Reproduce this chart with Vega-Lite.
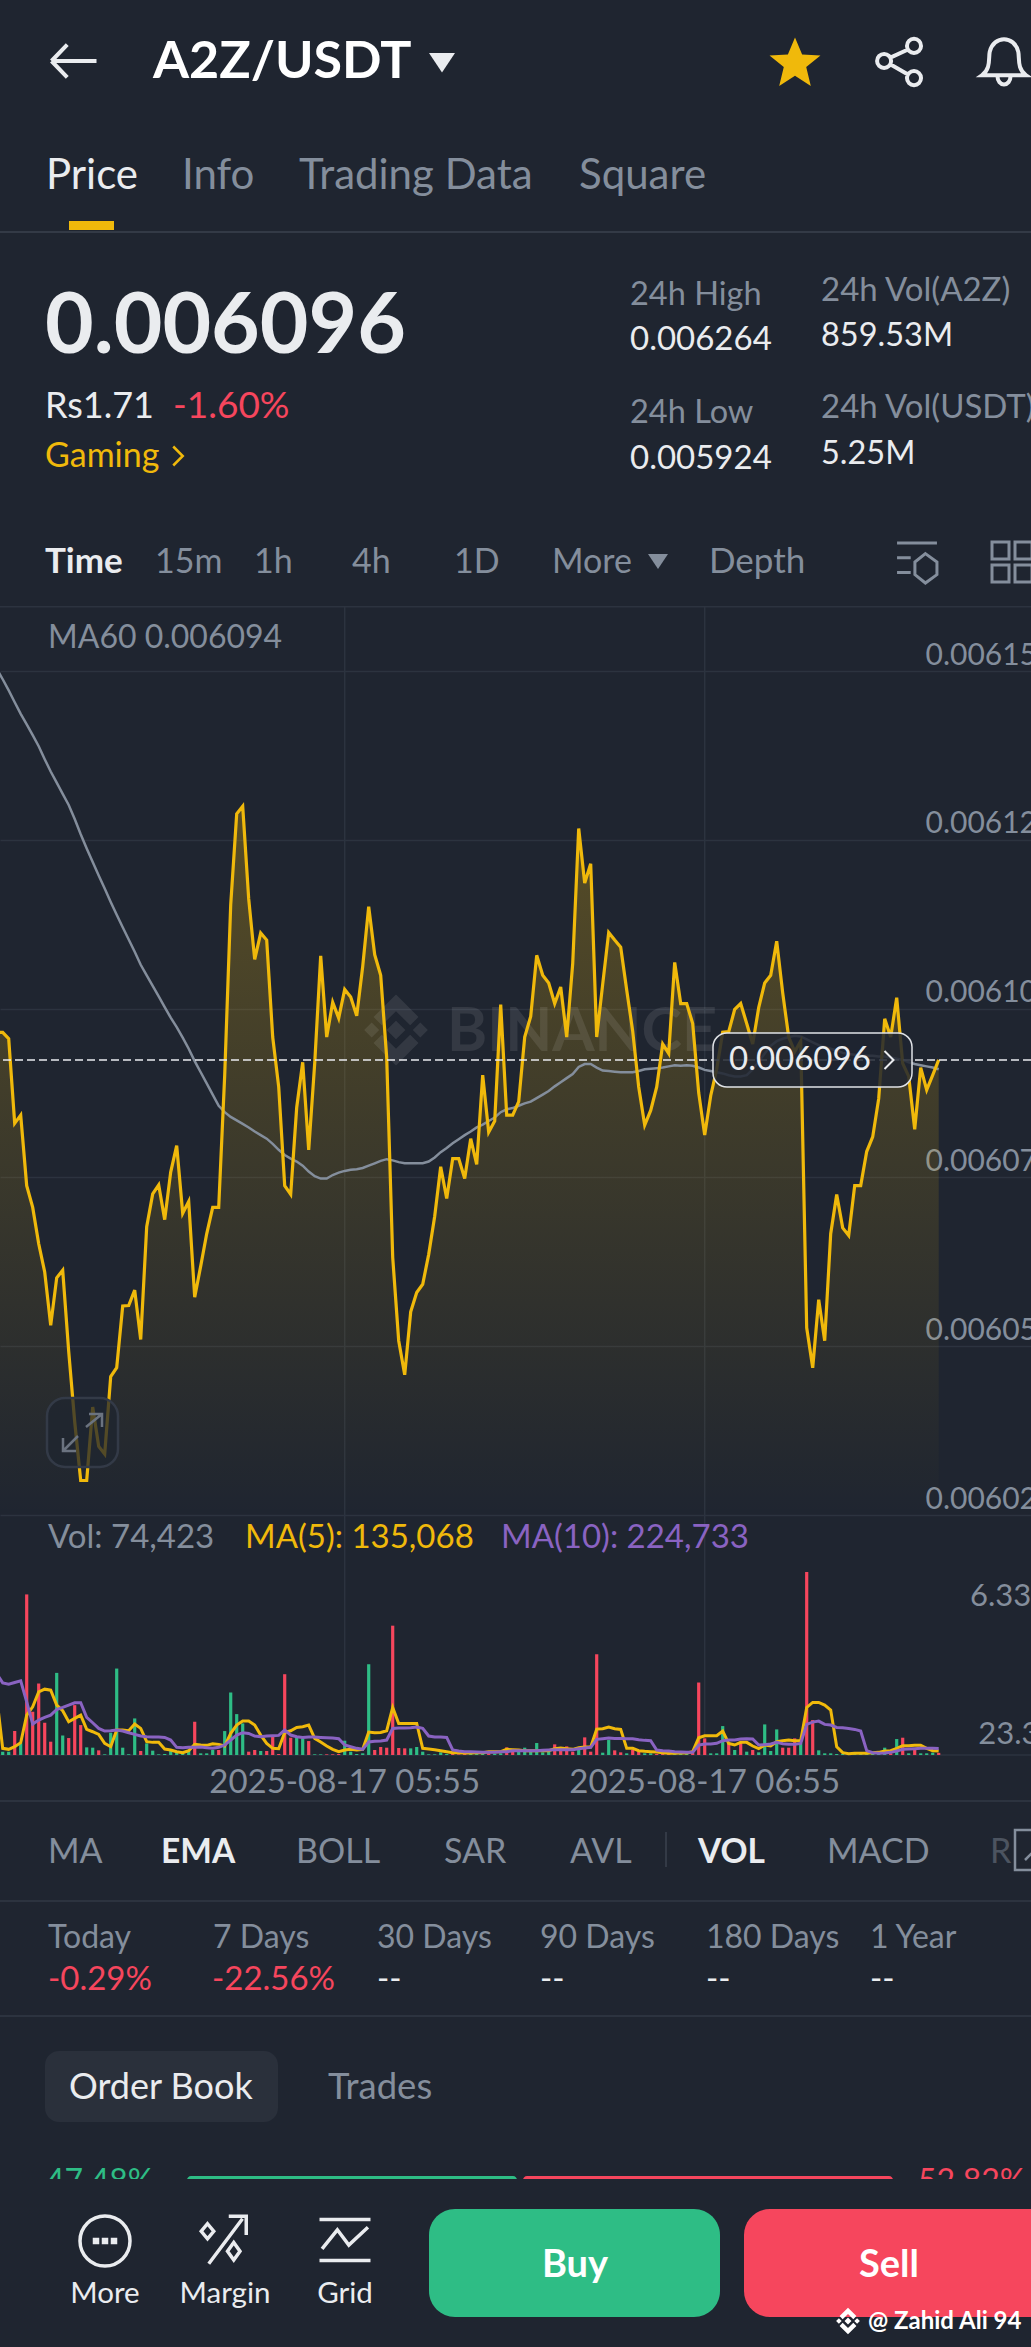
{"$schema":"https://vega.github.io/schema/vega-lite/v6.json","width":1031,"height":2347,"autosize":{"type":"none"},"padding":0,"background":"#1f2530","config":{"view":{"stroke":null},"font":"Lato"},"data":{"values":[{}]},"resolve":{"scale":{"y":"independent"},"axis":{"y":"independent"}},
"datasets":{"timeGrid":[{"t":"2025-08-17T05:55"},{"t":"2025-08-17T06:55"}],"kline":[
{"t":"2025-08-17T04:57","price":0.00610009,"ma60":0.00615394,"ma5":2012500,"ma10":2817500},
{"t":"2025-08-17T04:58","price":0.00610009,"ma60":0.00615238,"vol":115000,"side":"up","ma5":230000,"ma10":2495500},
{"t":"2025-08-17T04:59","price":0.00609913,"ma60":0.00615072,"vol":115000,"side":"up","ma5":195500,"ma10":2449500},
{"t":"2025-08-17T05:00","price":0.0060866,"ma60":0.00614898,"vol":828000,"side":"down","ma5":287500,"ma10":2507000},
{"t":"2025-08-17T05:01","price":0.00608782,"ma60":0.00614724,"vol":402500,"side":"up","ma5":425500,"ma10":2564500},
{"t":"2025-08-17T05:02","price":0.00607738,"ma60":0.00614568,"vol":5554500,"side":"down","ma5":1380000,"ma10":1840000},
{"t":"2025-08-17T05:03","price":0.00607416,"ma60":0.00614411,"vol":1495000,"side":"down","ma5":1667500,"ma10":1069500},
{"t":"2025-08-17T05:04","price":0.00606877,"ma60":0.00614246,"vol":2472500,"side":"down","ma5":2185000,"ma10":1207500},
{"t":"2025-08-17T05:05","price":0.00606459,"ma60":0.00614054,"vol":1115500,"side":"down","ma5":2277000,"ma10":1299500},
{"t":"2025-08-17T05:06","price":0.00605668,"ma60":0.00613872,"vol":460000,"side":"down","ma5":2242500,"ma10":1380000},
{"t":"2025-08-17T05:07","price":0.00606372,"ma60":0.00613706,"vol":2840500,"side":"up","ma5":1725000,"ma10":1575500},
{"t":"2025-08-17T05:08","price":0.00606485,"ma60":0.00613541,"vol":678500,"side":"up","ma5":1529500,"ma10":1644500},
{"t":"2025-08-17T05:09","price":0.00605285,"ma60":0.00613376,"vol":586500,"side":"down","ma5":1150000,"ma10":1725000},
{"t":"2025-08-17T05:10","price":0.00604241,"ma60":0.00613167,"vol":1725000,"side":"down","ma5":1265000,"ma10":1805500},
{"t":"2025-08-17T05:11","price":0.00603371,"ma60":0.00612941,"vol":1035000,"side":"down","ma5":1380000,"ma10":1805500},
{"t":"2025-08-17T05:12","price":0.00603371,"ma60":0.00612732,"vol":264500,"side":"up","ma5":885500,"ma10":1299500},
{"t":"2025-08-17T05:13","price":0.00604458,"ma60":0.00612532,"vol":253000,"side":"up","ma5":805000,"ma10":1115500},
{"t":"2025-08-17T05:14","price":0.00603875,"ma60":0.00612332,"vol":161000,"side":"down","ma5":713000,"ma10":920000},
{"t":"2025-08-17T05:15","price":0.00603762,"ma60":0.0061214,"vol":23000,"side":"up","ma5":402500,"ma10":828000},
{"t":"2025-08-17T05:16","price":0.00604911,"ma60":0.0061194,"vol":770500,"side":"up","ma5":287500,"ma10":839500},
{"t":"2025-08-17T05:17","price":0.00605041,"ma60":0.00611749,"vol":2990000,"side":"up","ma5":862500,"ma10":862500},
{"t":"2025-08-17T05:18","price":0.00605955,"ma60":0.00611566,"vol":253000,"side":"up","ma5":862500,"ma10":828000},
{"t":"2025-08-17T05:19","price":0.00605963,"ma60":0.00611384,"vol":23000,"side":"up","ma5":839500,"ma10":770500},
{"t":"2025-08-17T05:20","price":0.0060619,"ma60":0.00611201,"vol":1265000,"side":"up","ma5":1069500,"ma10":713000},
{"t":"2025-08-17T05:21","price":0.00605459,"ma60":0.00611009,"vol":138000,"side":"down","ma5":920000,"ma10":655500},
{"t":"2025-08-17T05:22","price":0.00607129,"ma60":0.00610853,"vol":402500,"side":"up","ma5":460000,"ma10":632500},
{"t":"2025-08-17T05:23","price":0.00607616,"ma60":0.00610696,"vol":149500,"side":"up","ma5":437000,"ma10":621000},
{"t":"2025-08-17T05:24","price":0.00607747,"ma60":0.0061054,"vol":23000,"side":"up","ma5":437000,"ma10":621000},
{"t":"2025-08-17T05:25","price":0.00607234,"ma60":0.00610383,"vol":34500,"side":"up","ma5":207000,"ma10":609500},
{"t":"2025-08-17T05:26","price":0.00607938,"ma60":0.00610226,"vol":138000,"side":"up","ma5":172500,"ma10":517500},
{"t":"2025-08-17T05:27","price":0.0060833,"ma60":0.00610087,"vol":115000,"side":"up","ma5":115000,"ma10":264500},
{"t":"2025-08-17T05:28","price":0.00607329,"ma60":0.00609931,"vol":57500,"side":"up","ma5":80500,"ma10":253000},
{"t":"2025-08-17T05:29","price":0.00607503,"ma60":0.00609765,"vol":149500,"side":"up","ma5":149500,"ma10":264500},
{"t":"2025-08-17T05:30","price":0.00606085,"ma60":0.00609583,"vol":1150000,"side":"down","ma5":368000,"ma10":264500},
{"t":"2025-08-17T05:31","price":0.00606546,"ma60":0.00609417,"vol":57500,"side":"up","ma5":345000,"ma10":276000},
{"t":"2025-08-17T05:32","price":0.00607025,"ma60":0.00609252,"vol":57500,"side":"up","ma5":333500,"ma10":253000},
{"t":"2025-08-17T05:33","price":0.00607416,"ma60":0.00609087,"vol":172500,"side":"up","ma5":391000,"ma10":230000},
{"t":"2025-08-17T05:34","price":0.00607416,"ma60":0.00608921,"vol":172500,"side":"down","ma5":368000,"ma10":264500},
{"t":"2025-08-17T05:35","price":0.00609374,"ma60":0.00608826,"vol":828000,"side":"up","ma5":310500,"ma10":345000},
{"t":"2025-08-17T05:36","price":0.00611897,"ma60":0.00608756,"vol":2162000,"side":"up","ma5":747500,"ma10":517500},
{"t":"2025-08-17T05:37","price":0.00613245,"ma60":0.00608704,"vol":1414500,"side":"up","ma5":1035000,"ma10":690000},
{"t":"2025-08-17T05:38","price":0.00613358,"ma60":0.00608652,"vol":1092500,"side":"up","ma5":1173000,"ma10":770500},
{"t":"2025-08-17T05:39","price":0.00611984,"ma60":0.006086,"vol":115000,"side":"down","ma5":1173000,"ma10":747500},
{"t":"2025-08-17T05:40","price":0.00611088,"ma60":0.00608539,"vol":172500,"side":"down","ma5":1035000,"ma10":655500},
{"t":"2025-08-17T05:41","price":0.00611479,"ma60":0.00608486,"vol":138000,"side":"up","ma5":690000,"ma10":632500},
{"t":"2025-08-17T05:42","price":0.00611375,"ma60":0.00608434,"vol":138000,"side":"down","ma5":402500,"ma10":655500},
{"t":"2025-08-17T05:43","price":0.00609939,"ma60":0.00608356,"vol":632500,"side":"down","ma5":230000,"ma10":667000},
{"t":"2025-08-17T05:44","price":0.006092,"ma60":0.00608269,"vol":34500,"side":"down","ma5":218500,"ma10":678500},
{"t":"2025-08-17T05:45","price":0.00607738,"ma60":0.00608191,"vol":2794500,"side":"down","ma5":782000,"ma10":862500},
{"t":"2025-08-17T05:46","price":0.00607608,"ma60":0.00608138,"vol":598000,"side":"down","ma5":839500,"ma10":690000},
{"t":"2025-08-17T05:47","price":0.00608895,"ma60":0.00608095,"vol":632500,"side":"up","ma5":954500,"ma10":632500},
{"t":"2025-08-17T05:48","price":0.00609565,"ma60":0.00608034,"vol":575000,"side":"up","ma5":977500,"ma10":609500},
{"t":"2025-08-17T05:49","price":0.00608269,"ma60":0.00607947,"vol":483000,"side":"down","ma5":1035000,"ma10":621000},
{"t":"2025-08-17T05:50","price":0.00609548,"ma60":0.00607877,"vol":23000,"side":"up","ma5":575000,"ma10":621000},
{"t":"2025-08-17T05:51","price":0.0061114,"ma60":0.00607843,"vol":23000,"side":"up","ma5":448500,"ma10":609500},
{"t":"2025-08-17T05:52","price":0.00609939,"ma60":0.00607843,"vol":23000,"side":"down","ma5":310500,"ma10":598000},
{"t":"2025-08-17T05:53","price":0.00610453,"ma60":0.00607895,"vol":23000,"side":"down","ma5":195500,"ma10":586500},
{"t":"2025-08-17T05:54","price":0.00610218,"ma60":0.0060793,"vol":34500,"side":"down","ma5":115000,"ma10":563500},
{"t":"2025-08-17T05:55","price":0.00610644,"ma60":0.00607956,"vol":494500,"side":"up","ma5":172500,"ma10":345000},
{"t":"2025-08-17T05:56","price":0.00610531,"ma60":0.00607973,"vol":115000,"side":"up","ma5":195500,"ma10":287500},
{"t":"2025-08-17T05:57","price":0.00610253,"ma60":0.00607982,"vol":34500,"side":"up","ma5":172500,"ma10":230000},
{"t":"2025-08-17T05:58","price":0.00610983,"ma60":0.00607999,"vol":57500,"side":"up","ma5":195500,"ma10":195500},
{"t":"2025-08-17T05:59","price":0.00611871,"ma60":0.00608034,"vol":3139500,"side":"up","ma5":793500,"ma10":448500},
{"t":"2025-08-17T06:00","price":0.00611157,"ma60":0.00608069,"vol":172500,"side":"down","ma5":770500,"ma10":471500},
{"t":"2025-08-17T06:01","price":0.00610853,"ma60":0.00608104,"vol":276000,"side":"down","ma5":782000,"ma10":483000},
{"t":"2025-08-17T06:02","price":0.00609635,"ma60":0.0060813,"vol":253000,"side":"down","ma5":839500,"ma10":517500},
{"t":"2025-08-17T06:03","price":0.00606677,"ma60":0.00608112,"vol":4473500,"side":"down","ma5":1644500,"ma10":920000},
{"t":"2025-08-17T06:04","price":0.00605441,"ma60":0.00608086,"vol":241500,"side":"down","ma5":1092500,"ma10":931500},
{"t":"2025-08-17T06:05","price":0.00604937,"ma60":0.00608069,"vol":230000,"side":"down","ma5":1092500,"ma10":931500},
{"t":"2025-08-17T06:06","price":0.00605868,"ma60":0.00608069,"vol":230000,"side":"up","ma5":1092500,"ma10":943000},
{"t":"2025-08-17T06:07","price":0.00606155,"ma60":0.00608069,"vol":276000,"side":"up","ma5":1092500,"ma10":966000},
{"t":"2025-08-17T06:08","price":0.00606277,"ma60":0.00608069,"vol":115000,"side":"up","ma5":230000,"ma10":920000},
{"t":"2025-08-17T06:09","price":0.0060672,"ma60":0.00608095,"vol":23000,"side":"up","ma5":207000,"ma10":655500},
{"t":"2025-08-17T06:10","price":0.00607286,"ma60":0.00608156,"vol":23000,"side":"up","ma5":184000,"ma10":621000},
{"t":"2025-08-17T06:11","price":0.00608017,"ma60":0.00608234,"vol":92000,"side":"up","ma5":149500,"ma10":621000},
{"t":"2025-08-17T06:12","price":0.00607547,"ma60":0.00608295,"vol":34500,"side":"up","ma5":115000,"ma10":609500},
{"t":"2025-08-17T06:13","price":0.00608138,"ma60":0.00608365,"vol":34500,"side":"down","ma5":80500,"ma10":172500},
{"t":"2025-08-17T06:14","price":0.00608138,"ma60":0.00608425,"vol":23000,"side":"down","ma5":80500,"ma10":138000},
{"t":"2025-08-17T06:15","price":0.00607843,"ma60":0.00608486,"vol":34500,"side":"down","ma5":69000,"ma10":115000},
{"t":"2025-08-17T06:16","price":0.00608434,"ma60":0.00608539,"vol":46000,"side":"up","ma5":69000,"ma10":115000},
{"t":"2025-08-17T06:17","price":0.00608051,"ma60":0.006086,"vol":34500,"side":"up","ma5":80500,"ma10":103500},
{"t":"2025-08-17T06:18","price":0.00609374,"ma60":0.00608643,"vol":46000,"side":"up","ma5":80500,"ma10":92000},
{"t":"2025-08-17T06:19","price":0.0060853,"ma60":0.00608695,"vol":57500,"side":"down","ma5":115000,"ma10":92000},
{"t":"2025-08-17T06:20","price":0.00608695,"ma60":0.00608747,"vol":46000,"side":"up","ma5":115000,"ma10":92000},
{"t":"2025-08-17T06:21","price":0.00610418,"ma60":0.00608826,"vol":57500,"side":"up","ma5":115000,"ma10":115000},
{"t":"2025-08-17T06:22","price":0.00608782,"ma60":0.00608869,"vol":264500,"side":"down","ma5":195500,"ma10":115000},
{"t":"2025-08-17T06:23","price":0.00608782,"ma60":0.00608887,"vol":115000,"side":"down","ma5":184000,"ma10":149500},
{"t":"2025-08-17T06:24","price":0.00608982,"ma60":0.00608921,"vol":115000,"side":"up","ma5":172500,"ma10":149500},
{"t":"2025-08-17T06:25","price":0.00609939,"ma60":0.00608956,"vol":253000,"side":"up","ma5":149500,"ma10":149500},
{"t":"2025-08-17T06:26","price":0.00610244,"ma60":0.00608982,"vol":115000,"side":"up","ma5":149500,"ma10":149500},
{"t":"2025-08-17T06:27","price":0.00611149,"ma60":0.00609034,"vol":414000,"side":"up","ma5":149500,"ma10":149500},
{"t":"2025-08-17T06:28","price":0.00610853,"ma60":0.00609087,"vol":92000,"side":"up","ma5":149500,"ma10":161000},
{"t":"2025-08-17T06:29","price":0.0061074,"ma60":0.00609139,"vol":115000,"side":"up","ma5":149500,"ma10":172500},
{"t":"2025-08-17T06:30","price":0.00610435,"ma60":0.00609208,"vol":368000,"side":"down","ma5":218500,"ma10":184000},
{"t":"2025-08-17T06:31","price":0.00610679,"ma60":0.00609269,"vol":230000,"side":"down","ma5":241500,"ma10":184000},
{"t":"2025-08-17T06:32","price":0.00609939,"ma60":0.0060933,"vol":299000,"side":"down","ma5":218500,"ma10":184000},
{"t":"2025-08-17T06:33","price":0.00611027,"ma60":0.00609391,"vol":115000,"side":"down","ma5":195500,"ma10":184000},
{"t":"2025-08-17T06:34","price":0.00613028,"ma60":0.00609496,"vol":172500,"side":"up","ma5":253000,"ma10":218500},
{"t":"2025-08-17T06:35","price":0.00612219,"ma60":0.00609539,"vol":609500,"side":"down","ma5":276000,"ma10":241500},
{"t":"2025-08-17T06:36","price":0.00612506,"ma60":0.00609539,"vol":115000,"side":"down","ma5":276000,"ma10":264500},
{"t":"2025-08-17T06:37","price":0.00609939,"ma60":0.00609487,"vol":3484500,"side":"down","ma5":897000,"ma10":540500},
{"t":"2025-08-17T06:38","price":0.00610722,"ma60":0.00609443,"vol":80500,"side":"up","ma5":908500,"ma10":563500},
{"t":"2025-08-17T06:39","price":0.00611488,"ma60":0.00609435,"vol":517500,"side":"up","ma5":966000,"ma10":586500},
{"t":"2025-08-17T06:40","price":0.00611375,"ma60":0.00609426,"vol":161000,"side":"down","ma5":908500,"ma10":575000},
{"t":"2025-08-17T06:41","price":0.0061127,"ma60":0.00609417,"vol":92000,"side":"down","ma5":885500,"ma10":575000},
{"t":"2025-08-17T06:42","price":0.00610635,"ma60":0.00609417,"vol":57500,"side":"up","ma5":230000,"ma10":563500},
{"t":"2025-08-17T06:43","price":0.00610026,"ma60":0.00609417,"vol":184000,"side":"down","ma5":230000,"ma10":563500},
{"t":"2025-08-17T06:44","price":0.006092,"ma60":0.00609435,"vol":115000,"side":"down","ma5":149500,"ma10":529000},
{"t":"2025-08-17T06:45","price":0.00608634,"ma60":0.00609461,"vol":57500,"side":"up","ma5":126500,"ma10":506000},
{"t":"2025-08-17T06:46","price":0.00608852,"ma60":0.00609469,"vol":57500,"side":"up","ma5":115000,"ma10":494500},
{"t":"2025-08-17T06:47","price":0.006092,"ma60":0.00609478,"vol":34500,"side":"down","ma5":103500,"ma10":172500},
{"t":"2025-08-17T06:48","price":0.00609835,"ma60":0.00609487,"vol":34500,"side":"down","ma5":80500,"ma10":149500},
{"t":"2025-08-17T06:49","price":0.00609696,"ma60":0.00609504,"vol":57500,"side":"down","ma5":57500,"ma10":138000},
{"t":"2025-08-17T06:50","price":0.00611044,"ma60":0.00609522,"vol":92000,"side":"up","ma5":57500,"ma10":115000},
{"t":"2025-08-17T06:51","price":0.00610435,"ma60":0.00609513,"vol":57500,"side":"up","ma5":69000,"ma10":103500},
{"t":"2025-08-17T06:52","price":0.00610435,"ma60":0.00609522,"vol":57500,"side":"up","ma5":69000,"ma10":92000},
{"t":"2025-08-17T06:53","price":0.00610139,"ma60":0.00609513,"vol":80500,"side":"down","ma5":115000,"ma10":92000},
{"t":"2025-08-17T06:54","price":0.00609113,"ma60":0.00609487,"vol":2507000,"side":"down","ma5":598000,"ma10":345000},
{"t":"2025-08-17T06:55","price":0.00608486,"ma60":0.00609452,"vol":575000,"side":"down","ma5":667000,"ma10":379500},
{"t":"2025-08-17T06:56","price":0.00609069,"ma60":0.00609435,"vol":57500,"side":"up","ma5":667000,"ma10":379500},
{"t":"2025-08-17T06:57","price":0.00609461,"ma60":0.00609417,"vol":57500,"side":"up","ma5":667000,"ma10":402500},
{"t":"2025-08-17T06:58","price":0.00610009,"ma60":0.006094,"vol":1000500,"side":"up","ma5":828000,"ma10":494500},
{"t":"2025-08-17T06:59","price":0.00610018,"ma60":0.00609374,"vol":437000,"side":"down","ma5":402500,"ma10":517500},
{"t":"2025-08-17T07:00","price":0.00610348,"ma60":0.00609356,"vol":172500,"side":"up","ma5":345000,"ma10":517500},
{"t":"2025-08-17T07:01","price":0.00610435,"ma60":0.00609356,"vol":460000,"side":"down","ma5":437000,"ma10":552000},
{"t":"2025-08-17T07:02","price":0.00610139,"ma60":0.00609374,"vol":115000,"side":"up","ma5":437000,"ma10":563500},
{"t":"2025-08-17T07:03","price":0.00609835,"ma60":0.00609461,"vol":172500,"side":"down","ma5":310500,"ma10":552000},
{"t":"2025-08-17T07:04","price":0.00610374,"ma60":0.00609574,"vol":92000,"side":"up","ma5":218500,"ma10":345000},
{"t":"2025-08-17T07:05","price":0.0061074,"ma60":0.00609696,"vol":1058000,"side":"up","ma5":345000,"ma10":356500},
{"t":"2025-08-17T07:06","price":0.00610853,"ma60":0.00609809,"vol":138000,"side":"up","ma5":310500,"ma10":379500},
{"t":"2025-08-17T07:07","price":0.00611357,"ma60":0.00609878,"vol":885500,"side":"up","ma5":460000,"ma10":437000},
{"t":"2025-08-17T07:08","price":0.00610592,"ma60":0.00609913,"vol":253000,"side":"down","ma5":494500,"ma10":391000},
{"t":"2025-08-17T07:09","price":0.00609939,"ma60":0.00609939,"vol":253000,"side":"down","ma5":517500,"ma10":368000},
{"t":"2025-08-17T07:10","price":0.00609722,"ma60":0.00609957,"vol":575000,"side":"down","ma5":494500,"ma10":368000},
{"t":"2025-08-17T07:11","price":0.00609878,"ma60":0.00609948,"vol":402500,"side":"up","ma5":494500,"ma10":402500},
{"t":"2025-08-17T07:12","price":0.00605633,"ma60":0.00609905,"vol":6330000,"side":"down","ma5":1644500,"ma10":1058000},
{"t":"2025-08-17T07:13","price":0.00605041,"ma60":0.00609861,"vol":1207500,"side":"down","ma5":1817000,"ma10":1138500},
{"t":"2025-08-17T07:14","price":0.0060605,"ma60":0.00609818,"vol":161000,"side":"up","ma5":1817000,"ma10":1173000},
{"t":"2025-08-17T07:15","price":0.00605441,"ma60":0.00609791,"vol":57500,"side":"up","ma5":1725000,"ma10":1058000},
{"t":"2025-08-17T07:16","price":0.00607025,"ma60":0.00609765,"vol":57500,"side":"up","ma5":1552500,"ma10":1035000},
{"t":"2025-08-17T07:17","price":0.00607608,"ma60":0.00609739,"vol":34500,"side":"up","ma5":287500,"ma10":954500},
{"t":"2025-08-17T07:18","price":0.00607112,"ma60":0.00609704,"vol":34500,"side":"up","ma5":80500,"ma10":943000},
{"t":"2025-08-17T07:19","price":0.00606999,"ma60":0.00609687,"vol":34500,"side":"up","ma5":46000,"ma10":920000},
{"t":"2025-08-17T07:20","price":0.00607738,"ma60":0.00609678,"vol":34500,"side":"up","ma5":57500,"ma10":885500},
{"t":"2025-08-17T07:21","price":0.00607738,"ma60":0.0060967,"vol":34500,"side":"up","ma5":57500,"ma10":828000},
{"t":"2025-08-17T07:22","price":0.00608243,"ma60":0.00609661,"vol":34500,"side":"up","ma5":57500,"ma10":149500},
{"t":"2025-08-17T07:23","price":0.0060846,"ma60":0.00609661,"vol":34500,"side":"up","ma5":80500,"ma10":80500},
{"t":"2025-08-17T07:24","price":0.00609026,"ma60":0.00609652,"vol":34500,"side":"up","ma5":92000,"ma10":57500},
{"t":"2025-08-17T07:25","price":0.00610209,"ma60":0.00609652,"vol":253000,"side":"up","ma5":138000,"ma10":69000},
{"t":"2025-08-17T07:26","price":0.00609939,"ma60":0.00609635,"vol":57500,"side":"down","ma5":149500,"ma10":92000},
{"t":"2025-08-17T07:27","price":0.00610522,"ma60":0.00609617,"vol":552000,"side":"up","ma5":230000,"ma10":138000},
{"t":"2025-08-17T07:28","price":0.00609548,"ma60":0.006096,"vol":598000,"side":"down","ma5":322000,"ma10":195500},
{"t":"2025-08-17T07:29","price":0.00609356,"ma60":0.00609565,"vol":57500,"side":"up","ma5":322000,"ma10":207000},
{"t":"2025-08-17T07:30","price":0.00608573,"ma60":0.00609539,"vol":230000,"side":"down","ma5":333500,"ma10":218500},
{"t":"2025-08-17T07:31","price":0.00609487,"ma60":0.00609522,"vol":57500,"side":"up","ma5":333500,"ma10":230000},
{"t":"2025-08-17T07:32","price":0.00609156,"ma60":0.00609504,"vol":57500,"side":"up","ma5":230000,"ma10":230000},
{"t":"2025-08-17T07:33","price":0.00609374,"ma60":0.00609487,"vol":80500,"side":"up","ma5":149500,"ma10":230000},
{"t":"2025-08-17T07:34","price":0.006096,"ma60":0.00609461,"vol":74423,"side":"down","ma5":135068,"ma10":224733}
]},
"layer":[
{"data":{"name":"timeGrid"},"mark":{"type":"rule","color":"#2c333f","strokeWidth":1.5},"encoding":{"x":{"field":"t","type":"temporal","scale":{"nice":false,"padding":0,"domain":[{"year":2025,"month":8,"date":17,"hours":4,"minutes":57,"seconds":33},{"year":2025,"month":8,"date":17,"hours":7,"minutes":49,"seconds":23}],"range":[0,1031]},"axis":null},"y":{"datum":0.0061631,"type":"quantitative","scale":{"domain":[0.0060286,0.0061536],"range":[1515,671]},"axis":null},"y2":{"datum":0.0060286}}},
{"data":{"name":"timeGrid"},"mark":{"type":"rule","color":"#2c333f","strokeWidth":1.5},"encoding":{"x":{"field":"t","type":"temporal","scale":{"nice":false,"padding":0,"domain":[{"year":2025,"month":8,"date":17,"hours":4,"minutes":57,"seconds":33},{"year":2025,"month":8,"date":17,"hours":7,"minutes":49,"seconds":23}],"range":[0,1031]},"axis":null},"y":{"datum":8300000,"type":"quantitative","scale":{"domain":[0,6330000],"range":[1755,1572]},"axis":null},"y2":{"datum":0}}},
{"data":{"name":"kline"},"mark":{"type":"area","color":{"gradient":"linear","x1":0,"y1":0,"x2":0,"y2":1,"stops":[{"offset":0,"color":"rgba(240,185,11,0.27)"},{"offset":1,"color":"rgba(240,185,11,0)"}]}},"encoding":{"x":{"field":"t","type":"temporal","scale":{"nice":false,"padding":0,"domain":[{"year":2025,"month":8,"date":17,"hours":4,"minutes":57,"seconds":33},{"year":2025,"month":8,"date":17,"hours":7,"minutes":49,"seconds":23}],"range":[0,1031]},"axis":null},"y":{"field":"price","type":"quantitative","scale":{"domain":[0.0060286,0.0061536],"range":[1515,671]},"axis":{"orient":"right","values":[0.0060286,0.0060536,0.0060786,0.0061036,0.0061286,0.0061536],"format":".6f","title":null,"grid":true,"gridColor":"#2c333f","gridWidth":1.5,"ticks":false,"domain":false,"labelFont":"Lato","labelFontSize":30,"labelColor":"#848e9c","labelPadding":-106,"labelAlign":"left","labelBaseline":"middle","labelOffset":-16,"labelOverlap":false,"labelFlush":false,"labelBound":false}},"y2":{"datum":0.0060286}}},
{"mark":{"type":"rule","color":"#2c333f","strokeWidth":1.5},"encoding":{"y":{"datum":0.0061631,"type":"quantitative","scale":{"domain":[0.0060286,0.0061536],"range":[1515,671]},"axis":null}}},
{"mark":{"type":"rule","color":"#2c333f","strokeWidth":1.5},"encoding":{"y":{"datum":0,"type":"quantitative","scale":{"domain":[0,6330000],"range":[1755,1572]},"axis":null}}},
{"mark":{"type":"text","text":"BINANCE","x":447,"y":1051,"align":"left","baseline":"alphabetic","font":"Lato","fontWeight":"bold","fontSize":61,"color":"#ffffff","opacity":0.09},"encoding":{}},
{"mark":{"type":"point","shape":"M0,-0.25 L0.25,0 L0,0.25 L-0.25,0 Z M-0.65,-0.2 L-0.45,0 L-0.65,0.2 L-0.85,0 Z M0.65,-0.2 L0.85,0 L0.65,0.2 L0.45,0 Z M0,-0.95 L0.6,-0.35 L0.38,-0.13 L0,-0.5 L-0.38,-0.13 L-0.6,-0.35 Z M0,0.95 L0.6,0.35 L0.38,0.13 L0,0.5 L-0.38,0.13 L-0.6,0.35 Z","size":5600,"x":396,"y":1030,"filled":true,"color":"#ffffff","opacity":0.09,"strokeWidth":0},"encoding":{}},
{"data":{"name":"kline"},"mark":{"type":"line","color":"#848e9c","strokeWidth":2.5},"encoding":{"x":{"field":"t","type":"temporal","scale":{"nice":false,"padding":0,"domain":[{"year":2025,"month":8,"date":17,"hours":4,"minutes":57,"seconds":33},{"year":2025,"month":8,"date":17,"hours":7,"minutes":49,"seconds":23}],"range":[0,1031]},"axis":null},"y":{"field":"ma60","type":"quantitative","scale":{"domain":[0.0060286,0.0061536],"range":[1515,671]},"axis":null}}},
{"data":{"name":"kline"},"mark":{"type":"line","color":"#f0b90b","strokeWidth":3.2},"encoding":{"x":{"field":"t","type":"temporal","scale":{"nice":false,"padding":0,"domain":[{"year":2025,"month":8,"date":17,"hours":4,"minutes":57,"seconds":33},{"year":2025,"month":8,"date":17,"hours":7,"minutes":49,"seconds":23}],"range":[0,1031]},"axis":null},"y":{"field":"price","type":"quantitative","scale":{"domain":[0.0060286,0.0061536],"range":[1515,671]},"axis":null}}},
{"mark":{"type":"rule","color":"#eaecef","strokeWidth":1.5,"strokeDash":[8,4]},"encoding":{"y":{"datum":0.006096,"type":"quantitative","scale":{"domain":[0.0060286,0.0061536],"range":[1515,671]},"axis":null}}},
{"mark":{"type":"rect","x":713,"x2":912,"y":1033,"y2":1087,"cornerRadius":14,"fill":"#1f2530","fillOpacity":0.85,"stroke":"#dfe2e6","strokeWidth":1.5},"encoding":{}},
{"mark":{"type":"text","x":729,"align":"left","baseline":"middle","font":"Lato","fontSize":33,"color":"#eaecef"},"encoding":{"y":{"datum":0.006096,"type":"quantitative","scale":{"domain":[0.0060286,0.0061536],"range":[1515,671]},"axis":null},"text":{"value":"0.006096"}}},
{"mark":{"type":"point","shape":"M-0.5,-1 L0.5,0 L-0.5,1","size":324,"x":889,"y":1060,"filled":false,"color":"#eaecef","opacity":1,"strokeWidth":2},"encoding":{}},
{"mark":{"type":"rect","x":47,"x2":118,"y":1398,"y2":1467,"cornerRadius":18,"fill":"#1f2530","fillOpacity":0.75,"stroke":"#333a47","strokeWidth":2.5},"encoding":{}},
{"mark":{"type":"point","shape":"M-0.95,0.95 L-0.2,0.2 M-0.95,0.3 L-0.95,0.95 L-0.3,0.95 M0.2,-0.25 L1,-0.9 M0.35,-0.9 L1,-0.9 L1,-0.25","size":1600,"x":82,"y":1432,"filled":false,"color":"#6b7380","opacity":1,"strokeWidth":2.5},"encoding":{}},
{"mark":{"type":"text","text":"MA60 0.006094","x":48,"y":648,"align":"left","baseline":"alphabetic","font":"Lato","fontSize":32,"color":"#848e9c"},"encoding":{}},
{"data":{"name":"kline"},"mark":{"type":"bar","size":3.2},"encoding":{"x":{"field":"t","type":"temporal","scale":{"nice":false,"padding":0,"domain":[{"year":2025,"month":8,"date":17,"hours":4,"minutes":57,"seconds":33},{"year":2025,"month":8,"date":17,"hours":7,"minutes":49,"seconds":23}],"range":[0,1031]},"axis":null},"y":{"field":"vol","type":"quantitative","scale":{"domain":[0,6330000],"range":[1755,1572]},"axis":null},"y2":{"datum":0},"color":{"field":"side","type":"nominal","scale":{"domain":["up","down"],"range":["#2ebd85","#f6465d"]},"legend":null}}},
{"data":{"name":"kline"},"mark":{"type":"line","color":"#f0b90b","strokeWidth":3},"encoding":{"x":{"field":"t","type":"temporal","scale":{"nice":false,"padding":0,"domain":[{"year":2025,"month":8,"date":17,"hours":4,"minutes":57,"seconds":33},{"year":2025,"month":8,"date":17,"hours":7,"minutes":49,"seconds":23}],"range":[0,1031]},"axis":null},"y":{"field":"ma5","type":"quantitative","scale":{"domain":[0,6330000],"range":[1755,1572]},"axis":null}}},
{"data":{"name":"kline"},"mark":{"type":"line","color":"#8a63c2","strokeWidth":3},"encoding":{"x":{"field":"t","type":"temporal","scale":{"nice":false,"padding":0,"domain":[{"year":2025,"month":8,"date":17,"hours":4,"minutes":57,"seconds":33},{"year":2025,"month":8,"date":17,"hours":7,"minutes":49,"seconds":23}],"range":[0,1031]},"axis":null},"y":{"field":"ma10","type":"quantitative","scale":{"domain":[0,6330000],"range":[1755,1572]},"axis":null}}},
{"data":{"name":"timeGrid"},"mark":{"type":"text","align":"center","baseline":"alphabetic","font":"Lato","fontSize":33,"color":"#848e9c"},"encoding":{"x":{"field":"t","type":"temporal","scale":{"nice":false,"padding":0,"domain":[{"year":2025,"month":8,"date":17,"hours":4,"minutes":57,"seconds":33},{"year":2025,"month":8,"date":17,"hours":7,"minutes":49,"seconds":23}],"range":[0,1031]},"axis":null},"y":{"datum":-1314000,"type":"quantitative","scale":{"domain":[0,6330000],"range":[1755,1572]},"axis":null},"text":{"field":"t","type":"temporal","format":"%Y-%m-%d %H:%M"}}},
{"mark":{"type":"text","x":1060,"align":"right","baseline":"top","dy":10,"font":"Lato","fontSize":31,"color":"#848e9c"},"encoding":{"y":{"datum":6330000,"type":"quantitative","scale":{"domain":[0,6330000],"range":[1755,1572]},"axis":null},"text":{"value":"6.33M"}}},
{"mark":{"type":"text","x":1060,"align":"right","baseline":"bottom","dy":-3,"font":"Lato","fontSize":31,"color":"#848e9c"},"encoding":{"y":{"datum":23300,"type":"quantitative","scale":{"domain":[0,6330000],"range":[1755,1572]},"axis":null},"text":{"value":"23.3K"}}},
{"mark":{"type":"text","text":"Vol: 74,423","x":48,"y":1548,"align":"left","baseline":"alphabetic","font":"Lato","fontSize":33,"color":"#848e9c"},"encoding":{}},
{"mark":{"type":"text","text":"MA(5): 135,068","x":245,"y":1548,"align":"left","baseline":"alphabetic","font":"Lato","fontSize":33,"color":"#f0b90b"},"encoding":{}},
{"mark":{"type":"text","text":"MA(10): 224,733","x":501,"y":1548,"align":"left","baseline":"alphabetic","font":"Lato","fontSize":33,"color":"#8a63c2"},"encoding":{}},

{"mark":{"type":"point","shape":"M-1,0 L1,0 M-1,0 L-0.3,-0.73 M-1,0 L-0.3,0.73","size":2025,"x":74,"y":61,"filled":false,"color":"#eaecef","opacity":1,"strokeWidth":4},"encoding":{}},
{"mark":{"type":"text","text":"A2Z/USDT","x":153,"y":78,"align":"left","baseline":"alphabetic","font":"Lato","fontWeight":"bold","fontSize":52,"color":"#ffffff"},"encoding":{}},
{"mark":{"type":"point","shape":"M-1,-0.7 L1,-0.7 L0,0.8 Z","size":676,"x":442,"y":62,"filled":true,"color":"#eaecef","opacity":1,"strokeWidth":0},"encoding":{}},
{"mark":{"type":"point","shape":"M0,-1 L0.28,-0.33 L1,-0.29 L0.44,0.16 L0.62,0.9 L0,0.5 L-0.62,0.9 L-0.44,0.16 L-1,-0.29 L-0.28,-0.33 Z","size":2600,"x":795,"y":63,"filled":true,"color":"#f0b90b","opacity":1,"strokeWidth":0},"encoding":{}},
{"mark":{"type":"point","shape":"M0.77,-0.62 A0.27,0.27 0 1 0 0.23,-0.62 A0.27,0.27 0 1 0 0.77,-0.62 M-0.38,-0.04 A0.27,0.27 0 1 0 -0.92,-0.04 A0.27,0.27 0 1 0 -0.38,-0.04 M0.77,0.62 A0.27,0.27 0 1 0 0.23,0.62 A0.27,0.27 0 1 0 0.77,0.62 M-0.43,-0.16 L0.27,-0.48 M-0.43,0.08 L0.27,0.48","size":2704,"x":901,"y":62,"filled":false,"color":"#eaecef","opacity":1,"strokeWidth":4},"encoding":{}},
{"mark":{"type":"point","shape":"M-0.85,0.55 C-0.5,0.3 -0.6,-0.1 -0.55,-0.35 C-0.4,-1 0.4,-1 0.55,-0.35 C0.6,-0.1 0.5,0.3 0.85,0.55 Z M-0.25,0.6 A0.25,0.3 0 0 0 0.25,0.6","size":2704,"x":1004,"y":61,"filled":false,"color":"#eaecef","opacity":1,"strokeWidth":4},"encoding":{}},
{"mark":{"type":"text","text":"Price","x":46,"y":189,"align":"left","baseline":"alphabetic","font":"Lato","fontSize":42,"color":"#eaecef"},"encoding":{}},
{"mark":{"type":"text","text":"Info","x":182,"y":189,"align":"left","baseline":"alphabetic","font":"Lato","fontSize":42,"color":"#848e9c"},"encoding":{}},
{"mark":{"type":"text","text":"Trading Data","x":299,"y":189,"align":"left","baseline":"alphabetic","font":"Lato","fontSize":42,"color":"#848e9c"},"encoding":{}},
{"mark":{"type":"text","text":"Square","x":579,"y":189,"align":"left","baseline":"alphabetic","font":"Lato","fontSize":42,"color":"#848e9c"},"encoding":{}},
{"mark":{"type":"rect","x":69,"x2":114,"y":221,"y2":230,"fill":"#f0b90b"},"encoding":{}},
{"mark":{"type":"rect","x":0,"x2":1031,"y":231,"y2":233,"fill":"#333a46"},"encoding":{}},
{"mark":{"type":"text","text":"0.006096","x":45,"y":353,"align":"left","baseline":"alphabetic","font":"Lato","fontWeight":"bold","fontSize":84,"color":"#eaecef"},"encoding":{}},
{"mark":{"type":"text","text":"Rs1.71","x":45,"y":418,"align":"left","baseline":"alphabetic","font":"Lato","fontSize":36,"color":"#eaecef"},"encoding":{}},
{"mark":{"type":"text","text":"-1.60%","x":173,"y":418,"align":"left","baseline":"alphabetic","font":"Lato","fontSize":37,"color":"#f6465d"},"encoding":{}},
{"mark":{"type":"text","text":"Gaming","x":45,"y":467,"align":"left","baseline":"alphabetic","font":"Lato","fontSize":34,"color":"#f0b90b"},"encoding":{}},
{"mark":{"type":"point","shape":"M-0.5,-1 L0.5,0 L-0.5,1","size":361,"x":178,"y":456,"filled":false,"color":"#f0b90b","opacity":1,"strokeWidth":2.5},"encoding":{}},
{"mark":{"type":"text","text":"24h High","x":630,"y":305,"align":"left","baseline":"alphabetic","font":"Lato","fontSize":32.5,"color":"#848e9c"},"encoding":{}},
{"mark":{"type":"text","text":"0.006264","x":630,"y":350,"align":"left","baseline":"alphabetic","font":"Lato","fontSize":33,"color":"#eaecef"},"encoding":{}},
{"mark":{"type":"text","text":"24h Low","x":630,"y":423,"align":"left","baseline":"alphabetic","font":"Lato","fontSize":32.5,"color":"#848e9c"},"encoding":{}},
{"mark":{"type":"text","text":"0.005924","x":630,"y":469,"align":"left","baseline":"alphabetic","font":"Lato","fontSize":33,"color":"#eaecef"},"encoding":{}},
{"mark":{"type":"text","text":"24h Vol(A2Z)","x":821,"y":301,"align":"left","baseline":"alphabetic","font":"Lato","fontSize":33,"color":"#848e9c"},"encoding":{}},
{"mark":{"type":"text","text":"859.53M","x":821,"y":346,"align":"left","baseline":"alphabetic","font":"Lato","fontSize":32.5,"color":"#eaecef"},"encoding":{}},
{"mark":{"type":"text","text":"24h Vol(USDT)","x":821,"y":418,"align":"left","baseline":"alphabetic","font":"Lato","fontSize":33,"color":"#848e9c"},"encoding":{}},
{"mark":{"type":"text","text":"5.25M","x":821,"y":464,"align":"left","baseline":"alphabetic","font":"Lato","fontSize":32.5,"color":"#eaecef"},"encoding":{}},
{"mark":{"type":"text","text":"Time","x":45,"y":573,"align":"left","baseline":"alphabetic","font":"Lato","fontSize":35,"fontWeight":"bold","color":"#eaecef"},"encoding":{}},
{"mark":{"type":"text","text":"15m","x":155,"y":573,"align":"left","baseline":"alphabetic","font":"Lato","fontSize":34,"color":"#848e9c"},"encoding":{}},
{"mark":{"type":"text","text":"1h","x":254,"y":573,"align":"left","baseline":"alphabetic","font":"Lato","fontSize":34,"color":"#848e9c"},"encoding":{}},
{"mark":{"type":"text","text":"4h","x":352,"y":573,"align":"left","baseline":"alphabetic","font":"Lato","fontSize":34,"color":"#848e9c"},"encoding":{}},
{"mark":{"type":"text","text":"1D","x":454,"y":573,"align":"left","baseline":"alphabetic","font":"Lato","fontSize":34,"color":"#848e9c"},"encoding":{}},
{"mark":{"type":"text","text":"More","x":552,"y":573,"align":"left","baseline":"alphabetic","font":"Lato","fontSize":34,"color":"#848e9c"},"encoding":{}},
{"mark":{"type":"point","shape":"M-1,-0.7 L1,-0.7 L0,0.8 Z","size":400,"x":658,"y":561,"filled":true,"color":"#848e9c","opacity":1,"strokeWidth":0},"encoding":{}},
{"mark":{"type":"text","text":"Depth","x":709,"y":573,"align":"left","baseline":"alphabetic","font":"Lato","fontSize":35,"color":"#848e9c"},"encoding":{}},
{"mark":{"type":"point","shape":"M-0.95,-0.9 L0.95,-0.9 M-0.95,-0.2 L-0.3,-0.2 M-0.95,0.5 L-0.3,0.5 M0.4,-0.4 L0.95,0 L0.95,0.6 L0.4,1 L-0.1,0.6 L-0.1,0 Z","size":1764,"x":917,"y":562,"filled":false,"color":"#848e9c","opacity":1,"strokeWidth":3},"encoding":{}},
{"mark":{"type":"point","shape":"M-1,-1 H-0.15 V-0.15 H-1 Z M0.15,-1 H1 V-0.15 H0.15 Z M-1,0.15 H-0.15 V1 H-1 Z M0.15,0.15 H1 V1 H0.15 Z","size":1600,"x":1012,"y":562,"filled":false,"color":"#848e9c","opacity":1,"strokeWidth":3},"encoding":{}},
{"mark":{"type":"rect","x":0,"x2":1031,"y":1800,"y2":1802,"fill":"#2c333f"},"encoding":{}},
{"mark":{"type":"text","text":"MA","x":48,"y":1863,"align":"left","baseline":"alphabetic","font":"Lato","fontSize":34,"color":"#848e9c"},"encoding":{}},
{"mark":{"type":"text","text":"EMA","x":161,"y":1863,"align":"left","baseline":"alphabetic","font":"Lato","fontSize":33.5,"fontWeight":"bold","color":"#eaecef"},"encoding":{}},
{"mark":{"type":"text","text":"BOLL","x":296,"y":1863,"align":"left","baseline":"alphabetic","font":"Lato","fontSize":34,"color":"#848e9c"},"encoding":{}},
{"mark":{"type":"text","text":"SAR","x":444,"y":1863,"align":"left","baseline":"alphabetic","font":"Lato","fontSize":34,"color":"#848e9c"},"encoding":{}},
{"mark":{"type":"text","text":"AVL","x":570,"y":1863,"align":"left","baseline":"alphabetic","font":"Lato","fontSize":34,"color":"#848e9c"},"encoding":{}},
{"mark":{"type":"rect","x":665,"x2":667,"y":1832,"y2":1867,"fill":"#333a46"},"encoding":{}},
{"mark":{"type":"text","text":"VOL","x":698,"y":1863,"align":"left","baseline":"alphabetic","font":"Lato","fontSize":33.5,"fontWeight":"bold","color":"#eaecef"},"encoding":{}},
{"mark":{"type":"text","text":"MACD","x":827,"y":1863,"align":"left","baseline":"alphabetic","font":"Lato","fontSize":34,"color":"#848e9c"},"encoding":{}},
{"mark":{"type":"text","text":"R","x":990,"y":1863,"align":"left","baseline":"alphabetic","font":"Lato","fontSize":34,"color":"#848e9c","opacity":0.45},"encoding":{}},
{"mark":{"type":"point","shape":"M-1,-1 H1 V1 H-1 Z M-0.5,0.5 L0.9,-0.9 M0.1,-0.9 L0.9,-0.9 L0.9,-0.1","size":1600,"x":1035,"y":1850,"filled":false,"color":"#848e9c","opacity":1,"strokeWidth":2.5},"encoding":{}},
{"mark":{"type":"rect","x":0,"x2":1031,"y":1900,"y2":1902,"fill":"#2c333f"},"encoding":{}},
{"mark":{"type":"text","text":"Today","x":48,"y":1948,"align":"left","baseline":"alphabetic","font":"Lato","fontSize":32,"color":"#848e9c"},"encoding":{}},
{"mark":{"type":"text","text":"7 Days","x":213,"y":1948,"align":"left","baseline":"alphabetic","font":"Lato","fontSize":32,"color":"#848e9c"},"encoding":{}},
{"mark":{"type":"text","text":"30 Days","x":377,"y":1948,"align":"left","baseline":"alphabetic","font":"Lato","fontSize":32,"color":"#848e9c"},"encoding":{}},
{"mark":{"type":"text","text":"90 Days","x":540,"y":1948,"align":"left","baseline":"alphabetic","font":"Lato","fontSize":32,"color":"#848e9c"},"encoding":{}},
{"mark":{"type":"text","text":"180 Days","x":706,"y":1948,"align":"left","baseline":"alphabetic","font":"Lato","fontSize":32,"color":"#848e9c"},"encoding":{}},
{"mark":{"type":"text","text":"1 Year","x":870,"y":1948,"align":"left","baseline":"alphabetic","font":"Lato","fontSize":32,"color":"#848e9c"},"encoding":{}},
{"mark":{"type":"text","text":"-0.29%","x":48,"y":1990,"align":"left","baseline":"alphabetic","font":"Lato","fontSize":33,"color":"#f6465d"},"encoding":{}},
{"mark":{"type":"text","text":"-22.56%","x":212,"y":1990,"align":"left","baseline":"alphabetic","font":"Lato","fontSize":33,"color":"#f6465d"},"encoding":{}},
{"mark":{"type":"text","text":"--","x":377,"y":1990,"align":"left","baseline":"alphabetic","font":"Lato","fontSize":33,"color":"#eaecef"},"encoding":{}},
{"mark":{"type":"text","text":"--","x":540,"y":1990,"align":"left","baseline":"alphabetic","font":"Lato","fontSize":33,"color":"#eaecef"},"encoding":{}},
{"mark":{"type":"text","text":"--","x":706,"y":1990,"align":"left","baseline":"alphabetic","font":"Lato","fontSize":33,"color":"#eaecef"},"encoding":{}},
{"mark":{"type":"text","text":"--","x":870,"y":1990,"align":"left","baseline":"alphabetic","font":"Lato","fontSize":33,"color":"#eaecef"},"encoding":{}},
{"mark":{"type":"rect","x":0,"x2":1031,"y":2015,"y2":2017,"fill":"#2c333f"},"encoding":{}},
{"mark":{"type":"rect","x":45,"x2":278,"y":2051,"y2":2122,"cornerRadius":14,"fill":"#2a303b"},"encoding":{}},
{"mark":{"type":"text","text":"Order Book","x":69,"y":2099,"align":"left","baseline":"alphabetic","font":"Lato","fontSize":36,"color":"#eaecef"},"encoding":{}},
{"mark":{"type":"text","text":"Trades","x":328,"y":2099,"align":"left","baseline":"alphabetic","font":"Lato","fontSize":36.5,"color":"#848e9c"},"encoding":{}},
{"mark":{"type":"text","text":"47.48%","x":46,"y":2192,"align":"left","baseline":"alphabetic","font":"Lato","fontSize":32,"color":"#2ebd85"},"encoding":{}},
{"mark":{"type":"text","text":"52.82%","x":918,"y":2192,"align":"left","baseline":"alphabetic","font":"Lato","fontSize":32,"color":"#f6465d"},"encoding":{}},
{"mark":{"type":"rect","x":187,"x2":517,"y":2176,"y2":2190,"cornerRadius":4,"fill":"#2ebd85"},"encoding":{}},
{"mark":{"type":"rect","x":523,"x2":893,"y":2176,"y2":2190,"cornerRadius":4,"fill":"#f6465d"},"encoding":{}},
{"mark":{"type":"rect","x":0,"x2":1031,"y":2179,"y2":2347,"fill":"#1f2530"},"encoding":{}},
{"mark":{"type":"point","shape":"M1,0 A1,1 0 1 0 -1,0 A1,1 0 1 0 1,0 M-0.42,-0.06 h0.12 v0.12 h-0.12 z M-0.06,-0.06 h0.12 v0.12 h-0.12 z M0.3,-0.06 h0.12 v0.12 h-0.12 z","size":2500,"x":105,"y":2241,"filled":false,"color":"#eaecef","opacity":1,"strokeWidth":3.5},"encoding":{}},
{"mark":{"type":"point","shape":"M-0.65,0.95 L0.7,-0.85 M0.15,-0.95 L0.85,-0.95 L0.85,-0.2 M-0.7,-0.65 L-0.45,-0.35 L-0.7,-0.05 L-0.95,-0.35 Z M0.35,0.1 L0.6,0.45 L0.35,0.8 L0.1,0.45 Z","size":2500,"x":225,"y":2240,"filled":false,"color":"#eaecef","opacity":1,"strokeWidth":3.5},"encoding":{}},
{"mark":{"type":"point","shape":"M-1,-0.8 L1,-0.8 M-1,0.8 L1,0.8 M-0.9,0.35 L-0.3,-0.4 L0.15,0.2 L0.9,-0.5","size":2600,"x":345,"y":2240,"filled":false,"color":"#eaecef","opacity":1,"strokeWidth":3.5},"encoding":{}},
{"mark":{"type":"text","text":"More","x":105,"y":2303,"align":"center","baseline":"alphabetic","font":"Lato","fontSize":29.5,"color":"#eaecef"},"encoding":{}},
{"mark":{"type":"text","text":"Margin","x":225,"y":2303,"align":"center","baseline":"alphabetic","font":"Lato","fontSize":29.5,"color":"#eaecef"},"encoding":{}},
{"mark":{"type":"text","text":"Grid","x":345,"y":2303,"align":"center","baseline":"alphabetic","font":"Lato","fontSize":29.5,"color":"#eaecef"},"encoding":{}},
{"mark":{"type":"rect","x":429,"x2":720,"y":2209,"y2":2317,"cornerRadius":26,"fill":"#2ebd85"},"encoding":{}},
{"mark":{"type":"rect","x":744,"x2":1060,"y":2209,"y2":2317,"cornerRadius":26,"fill":"#f6465d"},"encoding":{}},
{"mark":{"type":"text","text":"Buy","x":575,"y":2277,"align":"center","baseline":"alphabetic","font":"Lato","fontWeight":"bold","fontSize":38,"color":"#ffffff"},"encoding":{}},
{"mark":{"type":"text","text":"Sell","x":889,"y":2277,"align":"center","baseline":"alphabetic","font":"Lato","fontWeight":"bold","fontSize":38,"color":"#ffffff"},"encoding":{}},
{"mark":{"type":"point","shape":"M0,-0.25 L0.25,0 L0,0.25 L-0.25,0 Z M-0.65,-0.2 L-0.45,0 L-0.65,0.2 L-0.85,0 Z M0.65,-0.2 L0.85,0 L0.65,0.2 L0.45,0 Z M0,-0.95 L0.6,-0.35 L0.38,-0.13 L0,-0.5 L-0.38,-0.13 L-0.6,-0.35 Z M0,0.95 L0.6,0.35 L0.38,0.13 L0,0.5 L-0.38,0.13 L-0.6,0.35 Z","size":784,"x":848,"y":2321,"filled":true,"color":"#ffffff","opacity":1,"strokeWidth":0},"encoding":{}},
{"mark":{"type":"text","text":"@ Zahid Ali 94","x":868,"y":2329,"align":"left","baseline":"alphabetic","font":"Lato","fontWeight":"bold","fontSize":24,"color":"#ffffff"},"encoding":{}}
]}
